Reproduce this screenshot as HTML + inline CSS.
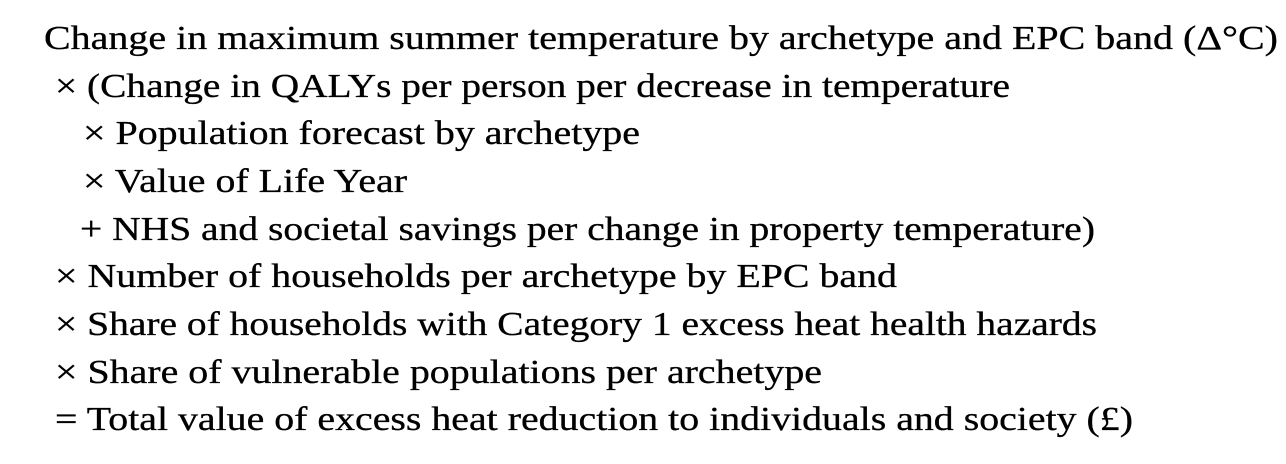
<!DOCTYPE html>
<html><head><meta charset="utf-8"><style>
html,body{margin:0;padding:0;background:#fff;width:1286px;height:464px;overflow:hidden}
svg text{font-family:"Liberation Serif",serif;font-size:34px;fill:#000;stroke:#000;stroke-width:0.3}
</style></head><body>
<svg width="1286" height="464">
<text x="44" y="49" textLength="1234" lengthAdjust="spacingAndGlyphs">Change in maximum summer temperature by archetype and EPC band (Δ°C)</text>
<text x="55" y="97" textLength="955" lengthAdjust="spacingAndGlyphs">× (Change in QALYs per person per decrease in temperature</text>
<text x="83" y="144" textLength="557" lengthAdjust="spacingAndGlyphs">× Population forecast by archetype</text>
<text x="83" y="192" textLength="324" lengthAdjust="spacingAndGlyphs">× Value of Life Year</text>
<text x="80" y="240" textLength="1015" lengthAdjust="spacingAndGlyphs">+ NHS and societal savings per change in property temperature)</text>
<text x="55" y="287" textLength="842" lengthAdjust="spacingAndGlyphs">×  Number of households per archetype by EPC band</text>
<text x="55" y="335" textLength="1042" lengthAdjust="spacingAndGlyphs">×  Share of households with Category 1 excess heat health hazards</text>
<text x="55" y="383" textLength="767" lengthAdjust="spacingAndGlyphs">×  Share of vulnerable populations per archetype</text>
<text x="55" y="430" textLength="1078" lengthAdjust="spacingAndGlyphs">= Total value of excess heat reduction to individuals and society (£)</text>
</svg>
</body></html>
